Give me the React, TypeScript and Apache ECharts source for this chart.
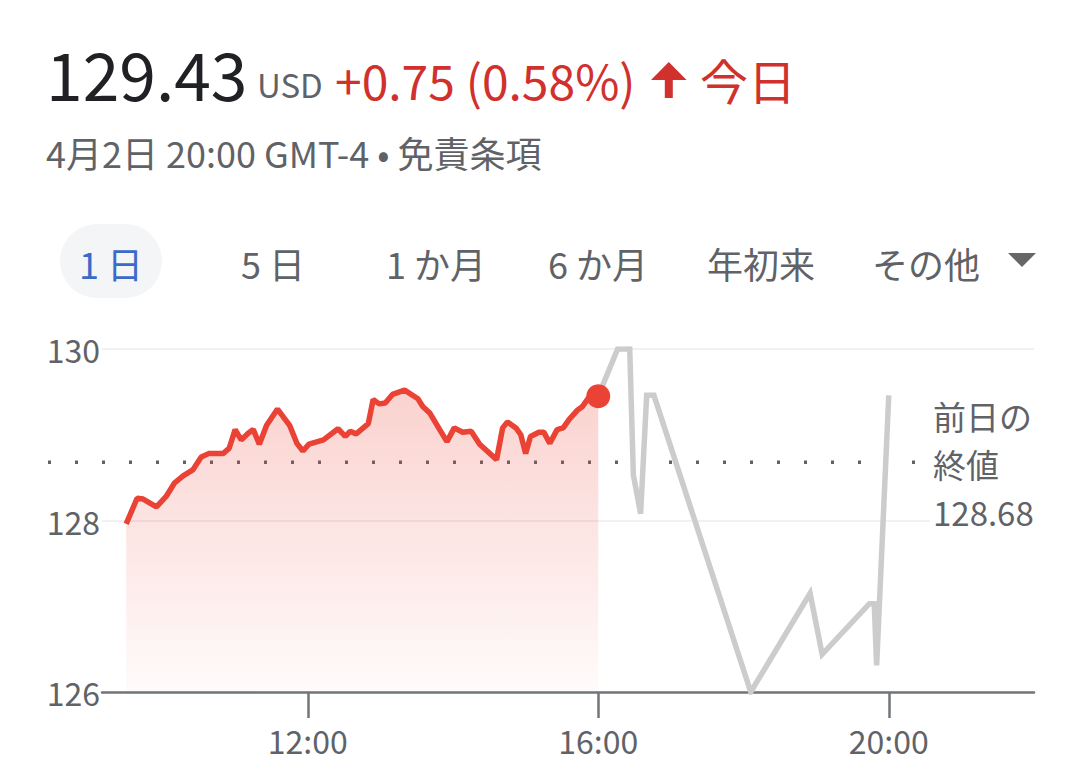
import React, { useEffect, useRef } from "react";
import * as echarts from "echarts";

// ---- data ----
const regularTimes = [
  "9:30", "9:39", "9:44", "9:55", "10:03", "10:10", "10:17", "10:25", "10:32", "10:38",
  "10:50", "10:55", "11:00", "11:05", "11:11", "11:15", "11:20", "11:26", "11:35", "11:45",
  "11:51", "11:56", "12:01", "12:13", "12:25", "12:31", "12:35", "12:40", "12:50", "12:54",
  "12:59", "13:04", "13:10", "13:20", "13:31", "13:35", "13:41", "13:49", "13:55", "14:01",
  "14:08", "14:15", "14:22", "14:36", "14:41", "14:45", "14:52", "14:56", "15:00", "15:04",
  "15:11", "15:15", "15:20", "15:26", "15:31", "15:36", "15:43", "15:47", "15:53", "16:00",
];
const regularPrices = [
  127.96, 128.26, 128.25, 128.16, 128.28, 128.44, 128.52, 128.59, 128.74, 128.78,
  128.78, 128.84, 129.06, 128.94, 129.02, 129.06, 128.89, 129.11, 129.30, 129.11,
  128.90, 128.81, 128.89, 128.94, 129.07, 128.98, 129.04, 129.01, 129.13, 129.41,
  129.36, 129.37, 129.47, 129.52, 129.42, 129.33, 129.25, 129.06, 128.92, 129.08,
  129.03, 129.04, 128.89, 128.71, 129.08, 129.15, 129.08, 129.00, 128.78, 128.98,
  129.03, 129.03, 128.90, 129.06, 129.08, 129.18, 129.29, 129.33, 129.45, 129.45,
];
const afterTimes = [
  "16:00", "16:16", "16:26", "16:29", "16:35", "16:40", "16:46", "18:06",
  "18:55", "19:05", "19:44", "19:48", "19:50", "20:00",
];
const afterPrices = [
  129.45, 130.0, 130.0, 128.53, 128.08, 129.46, 129.46, 126.0,
  127.15, 126.44, 127.03, 127.03, 126.31, 129.46,
];
const previousClose = 128.68;
const lastRegular = { time: "16:00", price: 129.45 };
const xTickHours = [12, 16, 20];
const yMin = 126;
const yMax = 130;
const xMinTime = "9:10";
const xMaxTime = "22:00";

const headerPrice = "129.43";
const headerCurrency = "USD";
const headerChange = "+0.75 (0.58%)";
const headerPeriod = "今日";
const subLine = "4月2日 20:00 GMT-4 • 免責条項";
const tabLabels = ["1 日", "5 日", "1 か月", "6 か月", "年初来", "その他"];
const prevCloseLabel = "前日の\n終値\n" + previousClose.toFixed(2);

const toHours = (s: string) => {
  const [h, m] = s.split(":").map(Number);
  return h + m / 60;
};

const FONT = "'Noto Sans CJK JP', 'Noto Sans', sans-serif";
const RED = "#ea4335";
const TEXT_RED = "#d0312d";
const GREY_TEXT = "#5f6368";

export default function App() {
  const ref = useRef<HTMLDivElement>(null);
  useEffect(() => {
    if (!ref.current) return;
    const chart = echarts.init(ref.current, undefined, { renderer: "svg" });
    const regular = regularTimes.map((t, i) => [toHours(t), regularPrices[i]]);
    const after = afterTimes.map((t, i) => [toHours(t), afterPrices[i]]);
    const tabCenters = [111, 273, 436, 598, 761, 926];

    const option: any = {
      animation: false,
      textStyle: { fontFamily: FONT },
      grid: [
        { left: 102, right: 46, top: 349, bottom: 92 },
        { left: 48, right: 163, top: 349, bottom: 92 },
      ],
      xAxis: [
        {
          type: "value",
          gridIndex: 0,
          min: toHours(xMinTime),
          max: toHours(xMaxTime),
          splitLine: { show: false },
          axisLine: { show: true, lineStyle: { color: "#70757a", width: 2.5 } },
          axisTick: {
            show: true,
            customValues: xTickHours,
            length: 26,
            lineStyle: { color: "#70757a", width: 2.5 },
          },
          axisLabel: {
            customValues: xTickHours,
            formatter: (v: number) => `${Math.round(v)}:00`,
            fontSize: 32,
            color: GREY_TEXT,
            margin: 32,
            fontFamily: FONT,
          },
        },
        { type: "value", gridIndex: 1, min: 0, max: 1, show: false },
      ],
      yAxis: [
        {
          type: "value",
          gridIndex: 0,
          min: yMin,
          max: yMax,
          interval: 2,
          axisLine: { show: false },
          axisTick: { show: false },
          splitLine: { show: true, lineStyle: { color: "#f1f1f1", width: 2 } },
          axisLabel: { fontSize: 32, color: GREY_TEXT, margin: 2, fontFamily: FONT },
        },
        { type: "value", gridIndex: 1, min: yMin, max: yMax, show: false },
      ],
      series: [
        {
          type: "line",
          xAxisIndex: 1,
          yAxisIndex: 1,
          data: [
            [0, previousClose],
            [1, previousClose],
          ],
          symbol: "none",
          lineStyle: { color: GREY_TEXT, width: 3.5, type: [3, 24], cap: "butt" },
          z: 1,
        },
        {
          type: "line",
          data: after,
          symbol: "none",
          lineStyle: { color: "#cccccc", width: 5.5, join: "miter" },
          z: 2,
        },
        {
          type: "line",
          data: regular,
          symbol: "none",
          lineStyle: { color: RED, width: 5.5 },
          areaStyle: {
            origin: "start",
            color: new echarts.graphic.LinearGradient(0, 0, 0, 1, [
              { offset: 0, color: "rgba(234,67,53,0.34)" },
              { offset: 1, color: "rgba(234,67,53,0.03)" },
            ]),
          },
          z: 3,
        },
        {
          type: "scatter",
          data: [[toHours(lastRegular.time), lastRegular.price]],
          symbolSize: 24,
          itemStyle: { color: RED, opacity: 1 },
          z: 4,
        },
      ],
      graphic: [
        {
          type: "text",
          x: 46,
          y: 72,
          style: { text: headerPrice, font: `66px ${FONT}`, fill: "#202124", verticalAlign: "middle" },
        },
        {
          type: "text",
          x: 257,
          y: 84,
          style: { text: headerCurrency, font: `33px ${FONT}`, fill: GREY_TEXT, verticalAlign: "middle" },
        },
        {
          type: "text",
          x: 335,
          y: 79,
          style: { text: headerChange, font: `48px ${FONT}`, fill: TEXT_RED, verticalAlign: "middle" },
        },
        {
          type: "polygon",
          shape: { points: [[651, 80], [668.8, 62], [686.6, 80]] },
          style: { fill: TEXT_RED },
        },
        {
          type: "rect",
          shape: { x: 664.8, y: 78, width: 8, height: 20 },
          style: { fill: TEXT_RED },
        },
        {
          type: "text",
          x: 700,
          y: 79,
          style: { text: headerPeriod, font: `48px ${FONT}`, fill: TEXT_RED, verticalAlign: "middle" },
        },
        {
          type: "text",
          x: 46,
          y: 152,
          style: { text: subLine, font: `36px ${FONT}`, fill: GREY_TEXT, verticalAlign: "middle" },
        },
        {
          type: "rect",
          shape: { x: 60, y: 224, width: 102, height: 74, r: 37 },
          style: { fill: "#f3f5f7" },
        },
        ...tabLabels.map((t, i) => ({
          type: "text",
          x: tabCenters[i],
          y: 263,
          style: {
            text: t,
            font: `36px ${FONT}`,
            fill: i === 0 ? "#3a6bc9" : GREY_TEXT,
            align: "center",
            verticalAlign: "middle",
          },
        })),
        {
          type: "polygon",
          shape: { points: [[1008, 253], [1036, 253], [1022, 267]] },
          style: { fill: "#666666" },
        },
        {
          type: "rect",
          shape: { x: 930, y: 392, width: 110, height: 140 },
          style: { fill: "#ffffff" },
          z: 10,
        },
        {
          type: "text",
          x: 933,
          y: 464,
          z: 11,
          style: {
            text: prevCloseLabel,
            font: `33px ${FONT}`,
            fill: GREY_TEXT,
            lineHeight: 48,
            verticalAlign: "middle",
          },
        },
      ],
    };
    chart.setOption(option);
    return () => chart.dispose();
  }, []);
  return (
    <div
      ref={ref}
      style={{ position: "absolute", left: 0, top: 0, width: 1080, height: 784, background: "#fff" }}
    />
  );
}
